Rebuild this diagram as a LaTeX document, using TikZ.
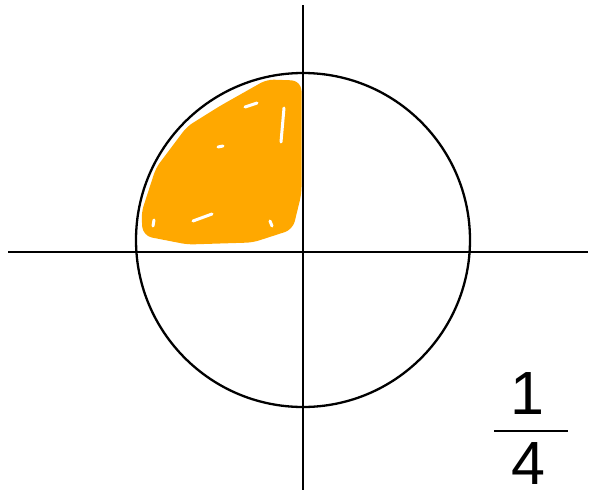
\documentclass[tikz,border=0pt]{standalone}
\usepackage{fontspec}
\setmainfont{Liberation Sans}
\usetikzlibrary{positioning}
\definecolor{scribble}{RGB}{255,168,0}

\begin{document}
\begin{tikzpicture}[
    x=1pt, y=-1pt,
    axis/.style={line width=2.3pt, draw=black},
    blob/.style={fill=scribble, draw=scribble, line width=9pt,
        line join=round, rounded corners=6pt},
    gap/.style={draw=white, line width=3pt, line cap=round},
    digit/.style={inner sep=0pt, font=\fontsize{61}{61}\selectfont}
]
\useasboundingbox (0,0) rectangle (592,493);

%% Shaded quarter (hand scribble)
\path[blob] (297,85) -- (268,84) -- (222,110) -- (190,130) -- (160,170)
    -- (146,213) -- (147,232) -- (188,240) -- (252,238) -- (289,226)
    -- (297,193) -- cycle;
\draw[gap] (284,108) -- (281,142);
\draw[gap] (193,221) -- (212,214);
\draw[gap] (245,107) -- (257,103);
\draw[gap] (154,220) -- (153,226);
\draw[gap] (218,147) -- (223,146);
\draw[gap] (270,221) -- (272,226);

%% Circle and axes
\node[circle, draw=black, line width=2.3pt, minimum size=334pt, inner sep=0pt]
    (disc) at (303,240) {};
\coordinate (top)    at (303,5);
\coordinate (bottom) at (303,490);
\coordinate (left)   at (8,252);
\coordinate (right)  at (588,252);
\draw[axis] (top) -- (bottom);
\draw[axis] (left) -- (right);

%% Fraction 1/4
\node[digit] (num) at (527,394) {1};
\node[digit] (den) at (528,464) {4};
\coordinate (barL) at (494,431);
\coordinate (barR) at (568,431);
\draw[axis] (barL) -- (barR);

\end{tikzpicture}
\end{document}
